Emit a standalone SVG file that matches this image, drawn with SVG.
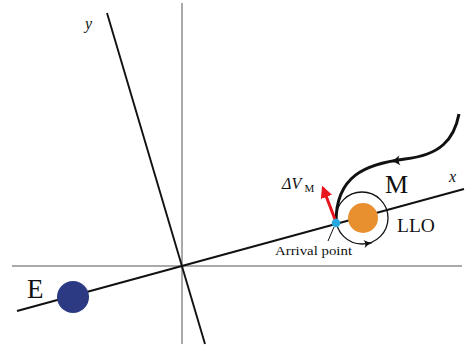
<svg xmlns="http://www.w3.org/2000/svg" xmlns:xlink="http://www.w3.org/1999/xlink" width="470" height="347" viewBox="0 0 470 347">
<style>
.thin{stroke:#555;stroke-width:1;fill:none}
.axis{stroke:#111;stroke-width:1.9;fill:none}
.serif{font-family:"Liberation Serif","DejaVu Serif",serif;fill:#111}
.it{font-style:italic}
</style>
<defs>
<path id="ahead" d="M-5,-4 Q-1,-0.8 4,0 Q-1,0.8 -5,4 Q-2.5,0 -5,-4 Z" fill="#111"/>
<marker id="red" viewBox="0 0 10 10" refX="8" refY="5" markerWidth="4" markerHeight="4" orient="auto" markerUnits="strokeWidth">
<path d="M0,0 L10,5 L0,10 Z" fill="#e8141e"/>
</marker>
</defs>
<g id="frame">
<line class="thin" x1="12" y1="266" x2="462" y2="266"/>
<line class="thin" x1="182" y1="3" x2="182" y2="344"/>
</g>
<g id="axes">
<line class="axis" x1="17" y1="311" x2="464" y2="189"/>
<line class="axis" x1="107" y1="13" x2="205" y2="344"/>
<text class="serif it" x="449" y="182" font-size="16">x</text>
<text class="serif it" x="85" y="29" font-size="16">y</text>
</g>
<g id="earth">
<circle cx="73" cy="297" r="16" fill="#2b3a82"/>
<text class="serif" x="27" y="298" font-size="27">E</text>
</g>
<g id="moon">
<circle cx="363" cy="218" r="15" fill="#e8902f"/>
<text class="serif" x="385" y="193" font-size="26">M</text>
</g>
<g id="connectors">
<g id="llo">
<circle cx="362" cy="218" r="26" fill="none" stroke="#111" stroke-width="1.3"/>
<use xlink:href="#ahead" transform="translate(369,243.3) rotate(-8)"/>
<text class="serif" x="397" y="232" font-size="19.5">LLO</text>
</g>
<g id="trajectory">
<path d="M459,114 C454,140 440,155 405,159 C365,164 336,176 336,222" fill="none" stroke="#111" stroke-width="3"/>
<use xlink:href="#ahead" transform="translate(394,161) rotate(174) scale(1.2)"/>
</g>
<g id="dv">
<line x1="336" y1="222" x2="323" y2="188" stroke="#e8141e" stroke-width="3" marker-end="url(#red)"/>
<text class="serif it" x="282" y="189" font-size="16">ΔV</text>
<text class="serif" x="304.5" y="192" font-size="11">M</text>
</g>
<g id="arrival">
<line x1="334" y1="227" x2="328" y2="241" stroke="#111" stroke-width="1"/>
<circle cx="336" cy="223" r="4.3" fill="#29a8e0"/>
<text class="serif" x="275" y="255" font-size="13" textLength="77" lengthAdjust="spacingAndGlyphs">Arrival point</text>
</g>
</g>
</svg>
